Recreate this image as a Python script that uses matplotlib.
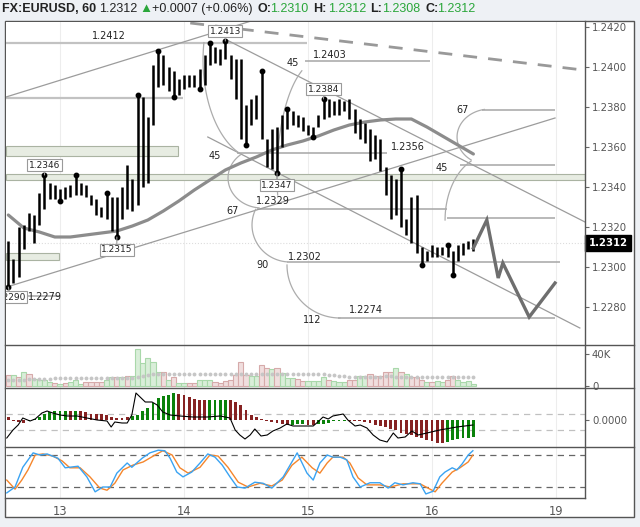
import matplotlib
matplotlib.use('Agg')
import matplotlib.pyplot as plt
import matplotlib.transforms as mtransforms
import numpy as np
from matplotlib.lines import Line2D
from matplotlib.patches import Rectangle

# ---- values (x = hours from 13th 00:00, trading time) ----
bar_high = [1.2313, 1.2304, 1.2320, 1.2321, 1.2327, 1.2326, 1.2337, 1.2346, 1.2342, 1.2341,
            1.2339, 1.2340, 1.2341, 1.2346, 1.2342, 1.2341, 1.2336, 1.2334, 1.2330, 1.2337,
            1.2335, 1.2335, 1.2340, 1.2351, 1.2344, 1.2386, 1.2385, 1.2375, 1.2401, 1.2408,
            1.2406, 1.2400, 1.2398, 1.2394, 1.2396, 1.2396, 1.2396, 1.2399, 1.2406, 1.2412,
            1.2410, 1.2409, 1.2413, 1.2406, 1.2404, 1.2404, 1.2381, 1.2384, 1.2386, 1.2398,
            1.2364, 1.2369, 1.2370, 1.2376, 1.2379, 1.2378, 1.2376, 1.2375, 1.2371, 1.2370,
            1.2376, 1.2384, 1.2384, 1.2383, 1.2384, 1.2383, 1.2384, 1.2379, 1.2374, 1.2372,
            1.2369, 1.2366, 1.2364, 1.2350, 1.2346, 1.2344, 1.2349, 1.2324, 1.2335, 1.2336,
            1.2310, 1.2308, 1.2311, 1.2310, 1.2310, 1.2311, 1.2308, 1.2311, 1.2312, 1.2313, 1.2314]
bar_low = [1.2290, 1.2292, 1.2295, 1.2309, 1.2318, 1.2312, 1.2321, 1.2329, 1.2334, 1.2334,
           1.2333, 1.2334, 1.2335, 1.2336, 1.2336, 1.2335, 1.2331, 1.2326, 1.2325, 1.2324,
           1.2318, 1.2315, 1.2324, 1.2329, 1.2328, 1.2331, 1.2340, 1.2342, 1.2371, 1.2390,
           1.2391, 1.2388, 1.2385, 1.2386, 1.2389, 1.2390, 1.2390, 1.2389, 1.2391, 1.2401,
           1.2402, 1.2401, 1.2404, 1.2394, 1.2384, 1.2364, 1.2361, 1.2371, 1.2374, 1.2364,
           1.2350, 1.2349, 1.2347, 1.2360, 1.2369, 1.2371, 1.2370, 1.2368, 1.2366, 1.2365,
           1.2370, 1.2374, 1.2375, 1.2376, 1.2376, 1.2378, 1.2374, 1.2367, 1.2364, 1.2362,
           1.2353, 1.2354, 1.2348, 1.2336, 1.2324, 1.2326, 1.2320, 1.2316, 1.2312, 1.2307,
           1.2301, 1.2303, 1.2305, 1.2305, 1.2306, 1.2305, 1.2296, 1.2303, 1.2306, 1.2309, 1.2308]
first_bar_hour = -10
pivot_high_idx = [7, 13, 19, 25, 29, 39, 42, 49, 54, 61, 76, 85]
pivot_low_idx = [0, 10, 21, 32, 37, 46, 52, 59, 80, 86]

ma_step = 3
ma_price = [1.2326, 1.23195, 1.23175, 1.2315, 1.2315, 1.2316, 1.2317, 1.2318, 1.23205, 1.23235,
            1.2328, 1.2333, 1.23385, 1.23435, 1.23485, 1.2352, 1.2355, 1.23585, 1.2361, 1.2363,
            1.23655, 1.23685, 1.2371, 1.23725, 1.23735, 1.2374, 1.2374, 1.2370, 1.23655, 1.2361, 1.23565]

proj_hours = [80, 82.6, 84.8, 85.7, 90.8, 95.8]
proj_price = [1.23095, 1.23235, 1.22945, 1.2302, 1.2275, 1.2292]

volume_k = [14, 14, 11.7, 17.5, 15.5, 8.7, 7, 7.7, 5, 4,
            2.6, 4, 5, 7.7, 2.6, 5.6, 5.6, 5.6, 5.6, 7.7,
            11, 11, 11.7, 12.5, 12.5, 46, 28.5, 35, 29.5, 17.5,
            17.5, 7.7, 11.7, 4, 3.3, 3.3, 3.3, 7, 7, 7.7,
            5, 4, 6, 7, 14, 30, 14, 12, 12, 26,
            22, 21, 22, 16, 10, 10, 9, 6, 6, 6,
            6, 11, 8, 6.5, 5.5, 5.5, 7.5, 7.5, 12, 12,
            15, 12, 12, 17.5, 17, 22, 17.5, 15, 11.5, 11.5,
            7.5, 5.5, 4.5, 6.5, 4.5, 8, 12, 8, 5.5, 6.5, 3]
volume_dir = ("rgrgrggggr" "grgggrrrrg" "grgrgggggg" "rgrggrrggg" "rrrrrrrggr"
              "rgrgggrrgg" "ggrgggrrgg" "rrrrrgrgrr" "rgrggrrgggg")
volume_ma_k = [7.5, 7.5, 7.8, 8, 8.2, 8.5, 8.7, 9, 9.2, 9.5,
               9.7, 9.8, 10, 10, 10, 10, 10, 10, 10, 10,
               10, 10, 10, 10, 10.2, 11.5, 12.5, 13.5, 14.5, 15,
               15, 15, 15, 15, 15, 15, 15, 15, 15, 15,
               15, 14.8, 14.5, 14.5, 14.5, 14.5, 14.5, 14.5, 14.5, 14.5,
               14.5, 14.5, 14.5, 14.5, 14.5, 14.5, 14.5, 14.5, 14.5, 14.5,
               14.5, 14.5, 14, 13.5, 13, 12, 11.5, 11, 11, 11,
               11, 11, 11.5, 12, 12, 11.5, 11, 11, 11, 11,
               11, 11, 11, 11, 11, 11, 11, 11, 11, 11, 11]

# MACD values in pips (1e-4)
macd_hist = [1.35, -0.25, -0.85, -1.35, -0.65, 0.65, 1.35, 3.0, 4.15, 4.5,
             4.5, 4.5, 4.5, 4.5, 4.5, 4.15, 3.0, 3.0, 3.0, 2.5,
             1.35, 0.85, 0.85, 1.35, 2.0, 2.5, 4.5, 6.15, 8.35, 10.85,
             12.0, 12.5, 13.35, 13.0, 12.5, 11.35, 10.35, 10.0, 10.0, 10.0,
             10.0, 10.0, 10.0, 10.0, 9.15, 7.5, 5.0, 2.5, 1.35, 0.5,
             -0.5, -0.85, -1.65, -2.15, -2.5, -2.5, -2.15, -2.0, -2.5, -2.5,
             -2.0, -1.75, -1.25, -0.65, -0.5, -0.35, -0.35, -0.5, -0.5, -0.85,
             -1.5, -2.25, -3.0, -3.65, -4.5, -5.0, -6.35, -7.0, -7.5, -8.35,
             -9.15, -10.0, -10.5, -11.35, -11.35, -10.85, -10.0, -9.65, -9.15, -8.85, -8.35]
macd_hist_dir = ("rrrrgggggg" "ggrgrrrrrr" "rrrrgggggg" "gggrrrrrrg" "gggrrrrrrr"
                 "rrrrrgggrr" "ggggggrrrr" "rrrrrrrrrr" "rrrrrgggggg")
macd_line_hours = [-10.3, -9.1, -8.1, -7.2, -5.8, -4.8, -3.5, -2.5, -1.4, 0, 1.4, 3.3, 5.2, 7.2,
                   9.1, 9.9, 10.6, 12, 13, 13.9, 14.7, 15.5, 16.5, 17.8, 18.8, 19.9, 21.3, 23.2,
                   25.7, 28.5, 31, 32.9, 33.9, 34.8, 35.8, 36.8, 37.7, 38.9, 40.1, 41.2, 42.6,
                   43.9, 45.1, 47, 49, 49.9, 50.9, 51.9, 52.8, 54.8, 55.7, 57.1, 58.1, 59.4,
                   60.6, 61.9, 63.3, 64.5, 65.4, 66.8, 68.1, 69.3, 71, 73.5, 76.8, 79.9]
macd_line = [-9, -5, -2.5, 1, -0.5, 0.5, 3.5, 4.5, 3.5, 2.5, 2, 2, 1, 0,
             -0.5, -3.5, -1, -1.5, -1.5, 2.5, 13.5, 11.5, 9, 9, 7.5, 4, 2.5, 2,
             1.5, 1.5, 2, 1, -5, -7.5, -9.5, -7.5, -4.5, -8, -7.5, -5.5, -4,
             -2, -3, -3, -3, -1, 1.5, 0.5, 2, 3, 0, -3, -2.5, -4,
             -7.5, -10, -11, -6.5, -9, -8.5, -5.5, -7.5, -6.5, -5, -3.5, -2.5]
macd_bands = [3, -5]

stoch_k_hours = [-10.3, -8.7, -7.2, -5.2, -3.9, -2.5, -0.4, 1.0, 3.5, 5.2, 6.8, 8.3, 9.7, 11.0,
                 13.0, 13.9, 15.9, 17.4, 19.0, 20.3, 21.3, 22.6, 23.8, 25.5, 27.1, 28.6, 30.0,
                 31.4, 32.9, 34.3, 35.8, 37.7, 39.3, 41.0, 43.2, 45.9, 47.8, 49.0, 50.3, 51.7,
                 52.8, 54.2, 55.5, 56.7, 58.1, 60.0, 61.9, 63.5, 64.8, 66.4, 68.3, 69.7, 70.8,
                 72.2, 73.5, 74.5, 75.9, 76.8, 77.8, 79.0, 79.9]
stoch_k = [9, 20, 57, 84, 80, 82, 74, 56, 59, 39, 11, 20, 20, 46,
           65, 57, 74, 84, 89, 88, 74, 48, 39, 48, 65, 82, 76,
           61, 39, 20, 18, 29, 27, 18, 39, 84, 46, 33, 65, 80,
           76, 76, 71, 39, 20, 28, 28, 18, 28, 24, 28, 26, 7,
           12, 39, 48, 56, 52, 63, 80, 88]
stoch_d_hours = [-10.3, -8.7, -7.4, -6.2, -4.8, -3.3, -1.4, 0.4, 1.9, 3.9, 5.8, 7.7, 9.1, 10.6,
                 12.2, 14.1, 16.1, 18.4, 19.9, 21.7, 23.2, 24.8, 27.1, 29.0, 30.6, 32.5, 34.5,
                 36.4, 38.7, 41.0, 43.0, 44.9, 46.8, 48.8, 50.3, 51.7, 52.8, 54.8, 56.1, 57.7,
                 59.4, 61.9, 63.9, 66.4, 69.7, 71.2, 72.6, 73.9, 75.9, 77.4, 79.0, 79.9]
stoch_d = [33, 16, 33, 52, 80, 82, 78, 69, 56, 56, 39, 18, 14, 27,
           52, 61, 67, 80, 88, 80, 56, 46, 57, 80, 78, 57, 29,
           20, 27, 22, 33, 61, 76, 56, 46, 65, 76, 76, 65, 37,
           24, 24, 20, 26, 26, 18, 11, 27, 48, 56, 67, 80]
stoch_bands = [80, 20]

day_ticks = [0, 24, 48, 72, 96]
day_labels = ['13', '14', '15', '16', '19']
price_ticks = [1.2280, 1.2300, 1.2320, 1.2340, 1.2360, 1.2380, 1.2400, 1.2420]
last_price = 1.2312

# drawing tools on the chart
h_levels = [  # price, from hour, to hour, heavy
    (1.2412, -10.45, 47.8, True), (1.23845, -10.45, 23.8, True),
    (1.2403, 47.4, 71.6, False), (1.2357, 34.3, 63.3, False),
    (1.2351, 77.4, 95.8, False), (1.23785, 81.7, 95.8, False),
    (1.2329, 38.1, 74.9, False), (1.23245, 74.9, 95.8, False),
    (1.23025, 43.9, 96.8, False), (1.22745, 53.8, 95.8, False),
    (1.22855, -10.45, 0.0, False)]
zones = [(1.23555, 1.23605, -10.45, 22.8), (1.23435, 1.23465, -10.45, 101.6),
         (1.23035, 1.2307, -10.45, -0.2)]
trend_lines = [((-10.45, 1.2385), (38.0, 1.24238)), ((-10.3, 1.2290), (95.8, 1.23745)),
               ((32.3, 1.24135), (101.6, 1.23225)), ((28.6, 1.2365), (100.6, 1.22695))]
dashed_line = ((25.2, 1.2422), (101.2, 1.23985))
arcs = [  # centre hour, centre price, half width (h), half height, angle from, angle to
    (38.71, 1.24035, 11.03, 0.0050, 170, 250), (39.10, 1.23445, 6.58, 0.0015, 130, 265),
    (44.52, 1.2321, 7.36, 0.00185, 155, 265), (54.19, 1.2301, 10.26, 0.00265, 180, 270),
    (50.32, 1.2346, 8.32, 0.00575, 115, 190), (83.23, 1.2365, 6.39, 0.0014, 100, 235),
    (83.23, 1.23235, 8.71, 0.00325, 115, 180)]
level_labels = [('1.2412', 9.5, 1.24155), ('1.2403', 52.3, 1.2406), ('1.2356', 67.4, 1.2360),
                ('1.2329', 41.2, 1.2333), ('1.2302', 47.4, 1.2305), ('1.2274', 59.2, 1.22785),
                ('1.2279', -3.0, 1.2285), ('45', 30.0, 1.23555), ('45', 45.1, 1.2402),
                ('67', 33.3, 1.2328), ('90', 39.1, 1.2301), ('112', 48.8, 1.22735),
                ('67', 78.0, 1.23785), ('45', 73.9, 1.23495)]
pivot_boxes = [(7, 'high', '1.2346', 10), (21, 'low', '1.2315', -13), (42, 'high', '1.2413', 10),
               (52, 'low', '1.2347', -12), (61, 'high', '1.2384', 10), (0, 'low', '1.2290', -10)]

# ---- figure -----------------------------------------------------------------
W, H = 640, 527
fig = plt.figure(figsize=(W / 100, H / 100), dpi=100, facecolor='#eef1f5')
plt.rcParams['font.family'] = 'DejaVu Sans'


def px_axes(x0, y0, x1, y1):
    a = fig.add_axes([x0 / W, 1 - y1 / H, (x1 - x0) / W, (y1 - y0) / H])
    for s in a.spines.values():
        s.set_visible(False)
    a.set_facecolor('white')
    a.set_xlim(-10.45, 101.6)
    a.set_xticks([])
    for d in day_ticks:
        a.axvline(d, color='#ededed', lw=0.8, zorder=0)
    a.yaxis.tick_right()
    a.tick_params(axis='y', length=3, width=0.8, color='#666', labelsize=7.3,
                  labelcolor='#555', pad=2)
    return a


fig.add_artist(Rectangle((5 / W, 1 - 517 / H), 629 / W, 496 / H, transform=fig.transFigure,
                         fc='white', ec='#555', lw=1.0, zorder=-1))

ax = px_axes(6, 22, 585, 345)
axv = px_axes(6, 345, 585, 388)
axm = px_axes(6, 388, 585, 447)
axs = px_axes(6, 447, 585, 498)

hours = np.arange(len(bar_high)) + first_bar_hour
high = np.array(bar_high)
low = np.array(bar_low)

# main price panel
ax.set_ylim(1.2261, 1.24225)
ax.set_yticks(price_ticks)
ax.set_yticklabels([f'{p:.4f}' for p in price_ticks])
ax.axhline(last_price, color='#dddddd', lw=0.8, ls=':', zorder=1)

for lo, hi, h0, h1 in zones:
    ax.add_patch(Rectangle((h0, lo), h1 - h0, hi - lo, fc='#e7ece2', ec='#aab3a2', lw=0.8, zorder=1))
for p, h0, h1, heavy in h_levels:
    ax.plot([h0, h1], [p, p], color='#c2c2c2' if heavy else '#a6a6a6',
            lw=1.6 if heavy else 1.1, zorder=2, solid_capstyle='butt')
for (h0, p0), (h1, p1) in trend_lines:
    ax.plot([h0, h1], [p0, p1], color='#9c9c9c', lw=0.9, zorder=2)
(h0, p0), (h1, p1) = dashed_line
ax.plot([h0, h1], [p0, p1], color='#999999', lw=2.0, ls=(0, (5, 4)), zorder=2)
for ch, cp, a, b, t1, t2 in arcs:
    t = np.radians(np.linspace(t1, t2, 60))
    ax.plot(ch + a * np.cos(t), cp + b * np.sin(t), color='#acacac', lw=0.9, zorder=2)

ax.plot(hours[::ma_step], ma_price, color='#8c8c8c', lw=2.3, zorder=4, solid_capstyle='round')
ax.vlines(hours, low, high, color='black', lw=1.8, zorder=5)
ax.plot(hours[pivot_high_idx], high[pivot_high_idx], 'o', ms=3.2, color='black', zorder=6)
ax.plot(hours[pivot_low_idx], low[pivot_low_idx], 'o', ms=3.2, color='black', zorder=6)
ax.plot(proj_hours, proj_price, color='#6e6e6e', lw=2.4, zorder=6, solid_joinstyle='miter')

for txt, h, p in level_labels:
    ax.text(h, p, txt, fontsize=7, color='#222', ha='center', va='center', zorder=6,
            clip_on=True)
for i, side, txt, dy in pivot_boxes:
    y = high[i] if side == 'high' else low[i]
    ax.annotate(txt, xy=(hours[i], y), xytext=(2 if i == 0 else 0, dy),
                textcoords='offset pixels', ha='center', va='center', fontsize=6.5,
                color='#222', zorder=8, clip_on=True,
                bbox=dict(boxstyle='square,pad=0.15', fc='white', ec='#9a9a9a', lw=0.8),
                arrowprops=dict(arrowstyle='-', color='#9a9a9a', lw=0.8, shrinkA=0, shrinkB=0))

trans = mtransforms.blended_transform_factory(ax.transAxes, ax.transData)
ax.text(1.006, last_price, f'{last_price:.4f}', transform=trans, ha='left', va='center',
        fontsize=7.3, color='white', weight='bold', clip_on=False, zorder=10,
        bbox=dict(boxstyle='square,pad=0.3', fc='black', ec='black'))

# volume panel
axv.set_ylim(-2.5, 51.25)
up_fill, up_edge = '#d9eed9', '#a9d8aa'
dn_fill, dn_edge = '#f0dede', '#d6aaaa'
axv.bar(hours, volume_k, width=1.0,
        color=[up_fill if c == 'g' else dn_fill for c in volume_dir],
        edgecolor=[up_edge if c == 'g' else dn_edge for c in volume_dir], lw=0.8, zorder=2)
axv.plot(hours, volume_ma_k, 'o', ms=2.8, color='#c6c6c6', mec='none', zorder=3)
axv.set_yticks([0, 40])
axv.set_yticklabels(['0', '40K'])

# MACD panel
axm.set_ylim(-13.5, 16)
for b in macd_bands:
    axm.axhline(b, color='#c0c0c0', lw=0.9, ls=(0, (5, 4)), zorder=1)
axm.bar(hours, macd_hist, width=0.55,
        color=['#0b820b' if c == 'g' else '#862222' for c in macd_hist_dir], zorder=2)
axm.plot(macd_line_hours, macd_line, color='black', lw=0.8, zorder=3)
axm.set_yticks([0])
axm.set_yticklabels(['0.0000'])

# stochastic panel
axs.set_ylim(-0.6, 95)
for b in stoch_bands:
    axs.axhline(b, color='#666666', lw=0.9, ls=(0, (5, 4)), zorder=1)
axs.plot(stoch_d_hours, stoch_d, color='#f5862c', lw=1.0, zorder=2)
axs.plot(stoch_k_hours, stoch_k, color='#3aa3f2', lw=1.0, zorder=3)
axs.set_yticks([])
axs.set_xticks(day_ticks)
axs.set_xticklabels(day_labels)
axs.tick_params(axis='x', length=0, labelsize=8.3, labelcolor='#555', pad=5)

# panel separators and right edge
for y in (345, 388, 447):
    fig.add_artist(Line2D([5 / W, 634 / W], [1 - y / H] * 2, color='#555', lw=1.0))
fig.add_artist(Line2D([5 / W, 585 / W], [1 - 498 / H] * 2, color='#555', lw=1.0))
fig.add_artist(Line2D([585 / W] * 2, [1 - 21 / H, 1 - 498 / H], color='#555', lw=1.0))

# header
green = '#2aa63a'
header = [(2, 'FX:EURUSD, 60', '#222', 'bold', 9), (99, '1.2312', '#222', 'normal', 9),
          (139, '\u25B2', green, 'normal', 9.5), (152, '+0.0007 (+0.06%)', '#222', 'normal', 9),
          (257, 'O:', '#222', 'bold', 9), (270, '1.2310', green, 'normal', 9),
          (313, 'H:', '#222', 'bold', 9), (328, '1.2312', green, 'normal', 9),
          (370, 'L:', '#222', 'bold', 9), (382, '1.2308', green, 'normal', 9),
          (425, 'C:', '#222', 'bold', 9), (437, '1.2312', green, 'normal', 9)]
for x, txt, col, wt, fs in header:
    fig.text(x / W, 1 - 9 / H, txt, color=col, weight=wt, fontsize=fs,
             family=['Liberation Sans', 'DejaVu Sans'], ha='left', va='center')

fig.savefig('out.png', dpi=100, facecolor=fig.get_facecolor())
